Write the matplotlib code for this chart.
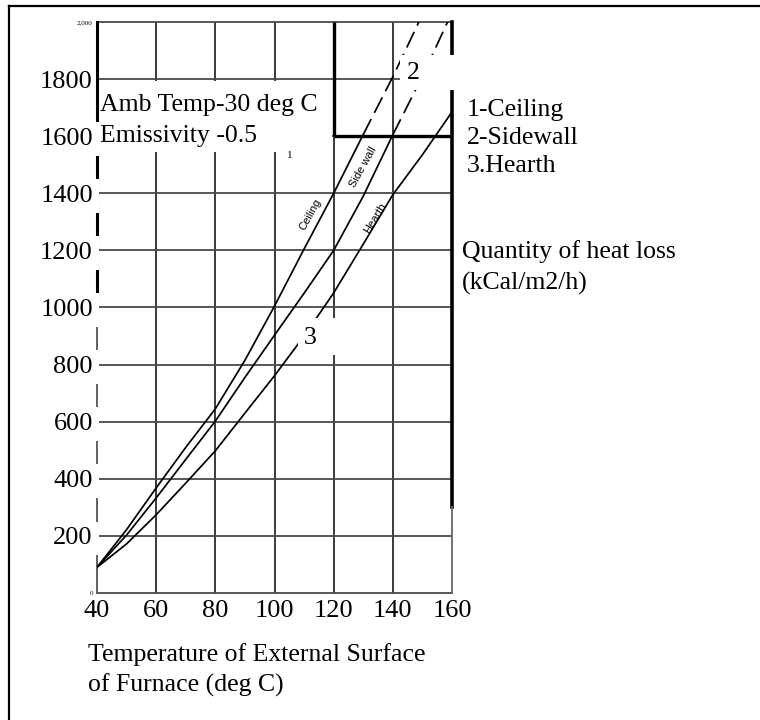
import matplotlib
matplotlib.use("Agg")
import matplotlib.pyplot as plt
from matplotlib.patches import Rectangle
from matplotlib.lines import Line2D

plt.rcParams['font.family'] = ['Liberation Serif', 'DejaVu Serif']

# values: surface temperature (deg C) vs heat loss (kCal/m2/h)
ceiling_t = [40, 50, 60, 70, 80, 90, 100, 110, 120, 130, 140, 148.8]
ceiling_q = [90, 222, 368, 510, 645, 815, 1005, 1205, 1400, 1606, 1808, 2000]
sidewall_t = [40, 50, 60, 70, 80, 90, 100, 110, 120, 130, 140, 150, 158.5]
sidewall_q = [90, 203, 333, 468, 602, 755, 903, 1050, 1200, 1390, 1605, 1810, 2000]
hearth_t = [40, 50, 60, 70, 80, 90, 100, 110, 120, 130, 140, 150, 160]
hearth_q = [90, 172, 274, 385, 498, 630, 761, 900, 1051, 1222, 1395, 1535, 1685]

x_ticks = [40, 60, 80, 100, 120, 140, 160]
x_labels = ["40", "60", "80", "100", "120", "140", "160"]
y_ticks = [0, 200, 400, 600, 800, 1000, 1200, 1400, 1600, 1800, 2000]
y_labels = ["0", "200", "400", "600", "800", "1000", "1200", "1400", "1600", "1800", "2,000"]

ceiling_dash_from = 9    # index where the ceiling curve turns dashed
sidewall_dash_from = 10  # same for the sidewall curve

fig = plt.figure(figsize=(7.6, 7.2), dpi=100)
ax = fig.add_axes([97 / 760, 1 - 593 / 720, 355 / 760, 571 / 720])
ax.set_xlim(x_ticks[0], x_ticks[-1])
ax.set_ylim(y_ticks[0], y_ticks[-1])
for s in ax.spines.values():
    s.set_visible(False)

# grid drawn by hand so the white label boxes can sit on top of it
for t in x_ticks[1:-1]:
    ax.axvline(t, color='#3a3a3a', lw=1.4, zorder=1)
for q in y_ticks:
    ax.axhline(q, color='#4a4a4a', lw=1.3, zorder=1, clip_on=False)
ax.axvline(x_ticks[0], ymin=0.5, color='black', lw=2.2, zorder=1.2, clip_on=False)
ax.axvline(x_ticks[0], ymax=0.5, color='#555555', lw=1.3, zorder=1.2, clip_on=False)
ax.axvline(x_ticks[-1], ymin=0.15, color='black', lw=2.6, zorder=1.2, clip_on=False)
ax.axvline(x_ticks[-1], ymax=0.15, color='#666666', lw=1.3, zorder=1.2, clip_on=False)
ax.hlines(y_ticks[8], x_ticks[4], x_ticks[6], color='black', lw=2.4, zorder=1.2)
ax.vlines(x_ticks[4], y_ticks[8], y_ticks[10], color='black', lw=2.4, zorder=1.2)

# white patch behind the conditions note
ax.add_patch(Rectangle((40.7, 1545), 78.8, 248, facecolor='white',
                       edgecolor='none', zorder=1.5))

# curves
ax.plot(ceiling_t[:ceiling_dash_from + 1], ceiling_q[:ceiling_dash_from + 1],
        color='black', lw=1.25, zorder=2)
ax.plot(ceiling_t[ceiling_dash_from:], ceiling_q[ceiling_dash_from:],
        color='black', lw=1.25, ls=(0, (10, 4)), zorder=2)
ax.plot(sidewall_t[:sidewall_dash_from + 1], sidewall_q[:sidewall_dash_from + 1],
        color='black', lw=1.25, zorder=2)
ax.plot(sidewall_t[sidewall_dash_from:], sidewall_q[sidewall_dash_from:],
        color='black', lw=1.25, ls=(0, (10, 4)), zorder=2)
ax.plot(hearth_t, hearth_q, color='black', lw=1.25, zorder=2)

# white gaps around the curve numbers
ax.add_patch(Rectangle((142.4, 1762), 19.0, 122, facecolor='white',
                       edgecolor='none', zorder=2.5, clip_on=False))
ax.add_patch(Rectangle((107.9, 834), 12.9, 129, facecolor='white',
                       edgecolor='none', zorder=2.5))

ax.text(146.8, 1821, "2", fontsize=18.5, ha='center', va='center', zorder=3)
ax.text(112, 893, "3", fontsize=18.5, ha='center', va='center', zorder=3)
ax.text(105.2, 1534, "1", fontsize=8, ha='center', va='center', zorder=3)

# small labels along the curves
ax.text(112, 1324, "Ceiling", fontsize=8, rotation=61, ha='center', va='center',
        family=['Liberation Sans'], zorder=3)
ax.text(129.9, 1492, "Side wall", fontsize=8, rotation=61, ha='center', va='center',
        family=['Liberation Sans'], zorder=3)
ax.text(134, 1313, "Hearth", fontsize=8, rotation=59, ha='center', va='center',
        family=['Liberation Sans'], zorder=3)

ax.text(41, 1747, "Amb Temp-30 deg C\nEmissivity -0.5", fontsize=18.5,
        ha='left', va='top', linespacing=1.5, zorder=3)

# ticks
ax.set_xticks(x_ticks, x_labels)
ax.set_yticks(y_ticks, y_labels)
ax.tick_params(length=0, labelsize=19)
ax.tick_params(axis='x', pad=5)
ax.tick_params(axis='y', pad=3)
ax.yaxis.set_zorder(3)
ylbls = ax.get_yticklabels()
for i, lbl in enumerate(ylbls):
    if i in (0, len(ylbls) - 1):
        lbl.set_fontsize(5)
    elif i != 9:
        lbl.set_bbox(dict(facecolor='white', edgecolor='none', boxstyle='square,pad=0.22'))

ax.set_xlabel("Temperature of External Surface\nof Furnace (deg C)", fontsize=18.5,
              ha='left', linespacing=1.45)
ax.xaxis.set_label_coords(-0.025, -0.087)

ax.yaxis.set_label_position('right')
ax.set_ylabel("Quantity of heat loss\n(kCal/m2/h)", fontsize=18.5, rotation=0,
              ha='left', va='top', linespacing=1.5)
ax.yaxis.set_label_coords(1.028, 0.618)

ax.text(1.042, 0.866, "1-Ceiling\n2-Sidewall\n3.Hearth", transform=ax.transAxes,
        fontsize=18.5, ha='left', va='top', linespacing=1.38)

# outer frame (only left and top edges show)
fig.add_artist(Line2D([9 / 760, 9 / 760], [0, 1 - 6 / 720], color='black', lw=1.6))
fig.add_artist(Line2D([9 / 760, 1], [1 - 6 / 720, 1 - 6 / 720], color='black', lw=1.6))

fig.savefig("out.png", dpi=100, facecolor='white')
